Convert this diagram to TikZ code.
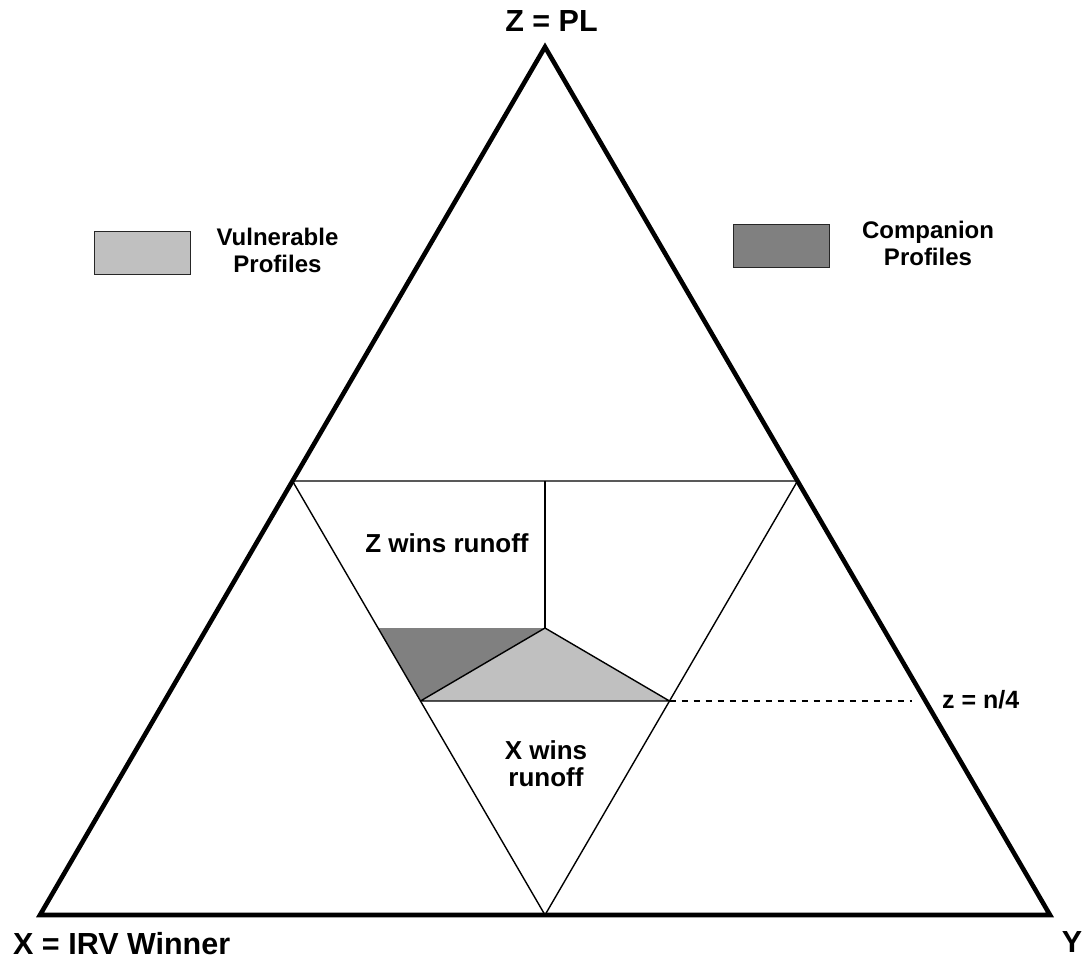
\documentclass[tikz,border=0pt]{standalone}
\usepackage{fontspec}
\setmainfont{Liberation Sans}
\begin{document}
\begin{tikzpicture}[x=1pt,y=-1pt,
  thickline/.style={line width=4.6pt,line join=miter},
  thinline/.style={line width=1.4pt},
  lbl/.style={inner sep=0pt,font=\bfseries\fontsize{24}{27}\selectfont,align=center},
  biglbl/.style={inner sep=0pt,font=\bfseries\fontsize{30.5}{34}\selectfont},
  keybox/.style={draw=black!85,line width=1.5pt,minimum width=96pt,minimum height=43pt,inner sep=0pt}]
\useasboundingbox (0,0) rectangle (1087,960);
\definecolor{lightgrey}{HTML}{C0C0C0}
\definecolor{darkgrey}{HTML}{808080}

% corners of the simplex and the derived points
\coordinate (Z) at (545,47);
\coordinate (X) at (40,915);
\coordinate (Y) at (1050,915);
\coordinate (mXZ) at (292.5,481);
\coordinate (mYZ) at (797.5,481);
\coordinate (mXY) at (545,915);
\coordinate (C) at (545,628);
\coordinate (dl) at (378,628);
\coordinate (ql) at (420.5,701);
\coordinate (qr) at (669.5,701);
\coordinate (qe) at (912,701);

% shaded regions
\fill[darkgrey] (dl) -- (C) -- (ql) -- cycle;
\filldraw[fill=lightgrey,draw=black,thinline,line join=round] (C) -- (qr) -- (ql) -- cycle;

% inner triangle and the runoff boundary
\draw[thinline] (mXZ) -- (mYZ) -- (mXY) -- cycle;
\draw[thinline] (545,481) -- (C);
\draw[line width=1.1pt,dash pattern=on 6pt off 6pt] (qr) -- (qe);

% outer triangle
\draw[thickline] (Z) -- (Y) -- (X) -- cycle;

% vertex labels
\node[biglbl,anchor=base] (zl) at (551.5,32) {Z = PL};
\node[biglbl,anchor=base west] (xl) at (13,954) {X = IRV Winner};
\node[biglbl,anchor=base] (yl) at (1072,952) {Y};

% region labels
\node[lbl,font=\bfseries\fontsize{26}{27}\selectfont,anchor=base] (zr) at (447,552) {Z wins runoff};
\node[lbl,font=\bfseries\fontsize{26}{27}\selectfont] (xr) at (546,764) {X wins\\runoff};
\node[lbl,font=\bfseries\fontsize{25}{27}\selectfont,anchor=base west] (zn) at (942,708) {z = n/4};

% key
\node[keybox,fill=lightgrey] (kv) at (142.5,253) {};
\node[lbl] (kvt) at (277.5,250.5) {Vulnerable\\Profiles};
\node[keybox,fill=darkgrey] (kc) at (781.5,246) {};
\node[lbl] (kct) at (928,243.5) {Companion\\Profiles};
\end{tikzpicture}
\end{document}
